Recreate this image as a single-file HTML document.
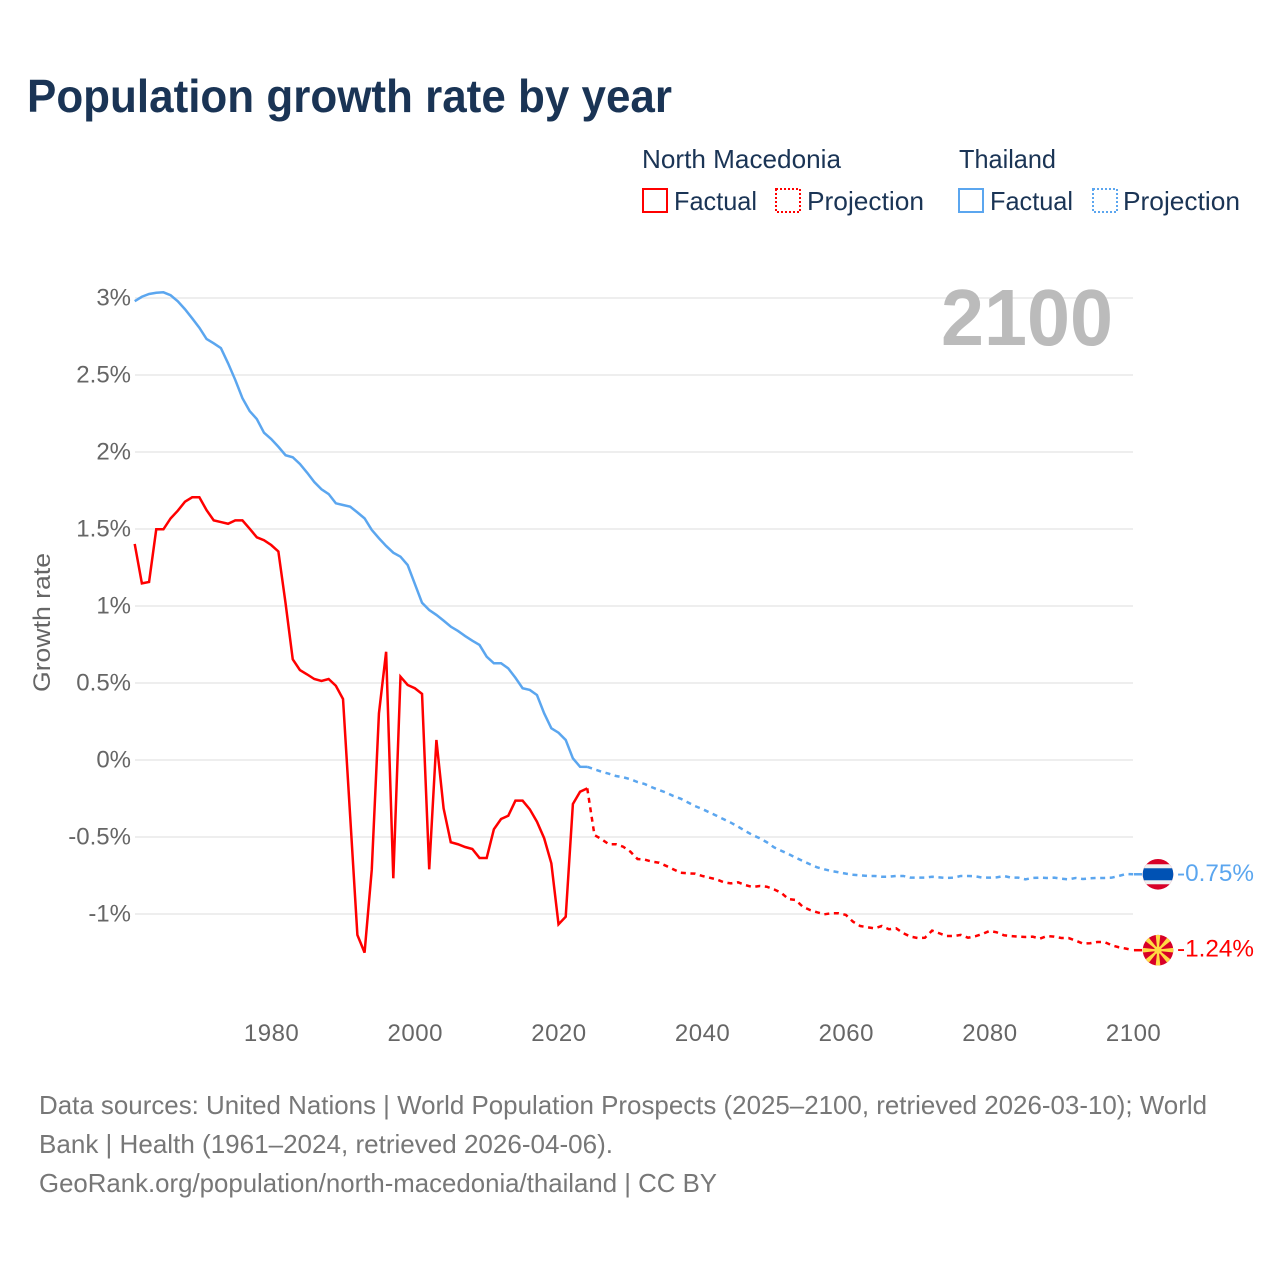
<!DOCTYPE html>
<html lang="en">
<head>
<meta charset="utf-8">
<title>Population growth rate by year</title>
<style>
html,body{margin:0;padding:0;background:#fff;}
svg{display:block;}
text{font-family:"Liberation Sans",sans-serif;}
</style>
</head>
<body>
<svg id="chart" xmlns="http://www.w3.org/2000/svg" width="1280" height="1280" viewBox="0 0 1280 1280">
  <rect x="0" y="0" width="1280" height="1280" fill="#ffffff"/>
  <text x="27" y="112" font-size="46" font-weight="700" fill="#1a3455" textLength="645" lengthAdjust="spacingAndGlyphs">Population growth rate by year</text>

  <g font-size="26" fill="#1a3455">
    <text x="642" y="168" textLength="199" lengthAdjust="spacingAndGlyphs">North Macedonia</text>
    <text x="959" y="168" textLength="97" lengthAdjust="spacingAndGlyphs">Thailand</text>
    <rect x="643" y="189" width="24" height="23" fill="none" stroke="#ff0000" stroke-width="2"/>
    <text x="674" y="210" textLength="83" lengthAdjust="spacingAndGlyphs">Factual</text>
    <rect x="776" y="189" width="24" height="23" fill="none" stroke="#ff0000" stroke-width="2" stroke-dasharray="2 2"/>
    <text x="807" y="210" textLength="117" lengthAdjust="spacingAndGlyphs">Projection</text>
    <rect x="959" y="189" width="24" height="23" fill="none" stroke="#5ba6ef" stroke-width="2"/>
    <text x="990" y="210" textLength="83" lengthAdjust="spacingAndGlyphs">Factual</text>
    <rect x="1093" y="189" width="24" height="23" fill="none" stroke="#5ba6ef" stroke-width="2" stroke-dasharray="2 2"/>
    <text x="1123" y="210" textLength="117" lengthAdjust="spacingAndGlyphs">Projection</text>
  </g>

  <g id="grid"></g>
  <g id="yTicksGroup"></g>
  <g id="xTicksGroup"></g>

  <text transform="translate(50,622.5) rotate(-90)" text-anchor="middle" font-size="24" fill="#666666" textLength="139" lengthAdjust="spacingAndGlyphs">Growth rate</text>

  <text x="941" y="345" font-size="80" font-weight="700" fill="#bbbbbb" textLength="172" lengthAdjust="spacingAndGlyphs">2100</text>

  <g id="series"></g>

  <g id="flagThailand">
    <clipPath id="clipTh"><circle cx="0" cy="0" r="15.3"/></clipPath>
    <g clip-path="url(#clipTh)">
      <rect x="-16" y="-16" width="32" height="32" fill="#d80027"/>
      <rect x="-16" y="-10" width="32" height="20" fill="#f0f0f0"/>
      <rect x="-16" y="-6" width="32" height="12" fill="#0052b4"/>
    </g>
    <text id="labelTh" x="19" y="6.5" font-size="24" fill="#5ba6ef" textLength="77" lengthAdjust="spacingAndGlyphs"></text>
  </g>

  <g id="flagMacedonia">
    <clipPath id="clipMk"><circle cx="0" cy="0" r="15.3"/></clipPath>
    <g clip-path="url(#clipMk)">
      <rect x="-16" y="-16" width="32" height="32" fill="#d80027"/>
      <g fill="#ffda44">
        <polygon points="-2.4,-16 2.4,-16 0.7,0 -0.7,0"/>
        <polygon points="-2.4,-16 2.4,-16 0.7,0 -0.7,0" transform="rotate(45)"/>
        <polygon points="-2.4,-16 2.4,-16 0.7,0 -0.7,0" transform="rotate(90)"/>
        <polygon points="-2.4,-16 2.4,-16 0.7,0 -0.7,0" transform="rotate(135)"/>
        <polygon points="-2.4,-16 2.4,-16 0.7,0 -0.7,0" transform="rotate(180)"/>
        <polygon points="-2.4,-16 2.4,-16 0.7,0 -0.7,0" transform="rotate(225)"/>
        <polygon points="-2.4,-16 2.4,-16 0.7,0 -0.7,0" transform="rotate(270)"/>
        <polygon points="-2.4,-16 2.4,-16 0.7,0 -0.7,0" transform="rotate(315)"/>
        <circle cx="0" cy="0" r="3.8"/>
      </g>
    </g>
    <text id="labelMk" x="19" y="6.5" font-size="24" fill="#ff0000" textLength="77" lengthAdjust="spacingAndGlyphs"></text>
  </g>

  <g font-size="26" fill="#777777">
    <text x="39" y="1114" textLength="1168" lengthAdjust="spacingAndGlyphs">Data sources: United Nations | World Population Prospects (2025–2100, retrieved 2026-03-10); World</text>
    <text x="39" y="1153" textLength="574" lengthAdjust="spacingAndGlyphs">Bank | Health (1961–2024, retrieved 2026-04-06).</text>
    <text x="39" y="1192" textLength="678" lengthAdjust="spacingAndGlyphs">GeoRank.org/population/north-macedonia/thailand | CC BY</text>
  </g>
</svg>
<script>
const factualStartYear = 1961;
const projectionStartYear = 2024;
const yTickValues = [3, 2.5, 2, 1.5, 1, 0.5, 0, -0.5, -1];
const yTickLabels = ['3%', '2.5%', '2%', '1.5%', '1%', '0.5%', '0%', '-0.5%', '-1%'];
const xTickYears = [1980, 2000, 2020, 2040, 2060, 2080, 2100];
const endValueLabels = ['-0.75%', '-1.24%'];

const thailandFactual = [2.979,3.008,3.026,3.034,3.037,3.018,2.979,2.927,2.868,2.807,2.734,2.706,2.675,2.576,2.468,2.349,2.266,2.214,2.125,2.084,2.034,1.979,1.966,1.922,1.866,1.805,1.758,1.727,1.667,1.656,1.645,1.608,1.569,1.494,1.440,1.390,1.346,1.320,1.266,1.143,1.021,0.974,0.942,0.905,0.866,0.838,0.805,0.775,0.747,0.671,0.628,0.628,0.595,0.534,0.466,0.455,0.422,0.303,0.206,0.177,0.130,0.011,-0.044,-0.045];
const thailandProjection = [-0.044,-0.060,-0.076,-0.089,-0.104,-0.112,-0.125,-0.143,-0.156,-0.177,-0.195,-0.212,-0.234,-0.251,-0.275,-0.299,-0.318,-0.340,-0.362,-0.385,-0.407,-0.433,-0.461,-0.487,-0.508,-0.534,-0.567,-0.589,-0.610,-0.634,-0.656,-0.677,-0.697,-0.710,-0.721,-0.729,-0.738,-0.745,-0.749,-0.753,-0.753,-0.758,-0.758,-0.753,-0.753,-0.764,-0.764,-0.764,-0.758,-0.762,-0.766,-0.764,-0.753,-0.753,-0.755,-0.764,-0.764,-0.762,-0.753,-0.764,-0.764,-0.775,-0.766,-0.764,-0.766,-0.764,-0.771,-0.775,-0.766,-0.773,-0.768,-0.766,-0.766,-0.764,-0.753,-0.740,-0.742];
const macedoniaFactual = [1.403,1.147,1.156,1.498,1.498,1.569,1.619,1.677,1.706,1.706,1.623,1.556,1.545,1.534,1.556,1.556,1.502,1.446,1.427,1.396,1.354,1.018,0.654,0.584,0.556,0.526,0.513,0.526,0.482,0.396,-0.368,-1.136,-1.251,-0.714,0.303,0.703,-0.768,0.541,0.487,0.466,0.429,-0.710,0.130,-0.314,-0.534,-0.547,-0.565,-0.578,-0.636,-0.636,-0.450,-0.383,-0.362,-0.264,-0.264,-0.320,-0.401,-0.508,-0.671,-1.067,-1.018,-0.286,-0.206,-0.184];
const macedoniaProjection = [-0.184,-0.487,-0.515,-0.547,-0.547,-0.563,-0.595,-0.643,-0.647,-0.660,-0.667,-0.688,-0.710,-0.732,-0.736,-0.738,-0.753,-0.764,-0.775,-0.794,-0.801,-0.794,-0.812,-0.825,-0.818,-0.823,-0.840,-0.862,-0.903,-0.909,-0.953,-0.974,-0.989,-1.002,-0.995,-0.995,-1.006,-1.050,-1.078,-1.086,-1.093,-1.078,-1.099,-1.093,-1.125,-1.147,-1.156,-1.154,-1.108,-1.125,-1.143,-1.143,-1.136,-1.154,-1.145,-1.130,-1.110,-1.119,-1.138,-1.143,-1.147,-1.149,-1.147,-1.160,-1.143,-1.147,-1.156,-1.156,-1.173,-1.192,-1.190,-1.182,-1.182,-1.203,-1.216,-1.225,-1.235];

const SVGNS = 'http://www.w3.org/2000/svg';
function xScale(year) { return 134.7 + (year - 1961) * (1134 - 135.5) / 139; }
function yScale(value) { return 760 - value * 154; }

function linePath(values, startYear) {
  return values.map(function (v, i) {
    return (i ? 'L' : 'M') + xScale(startYear + i).toFixed(2) + ' ' + yScale(v).toFixed(2);
  }).join(' ');
}

const gridGroup = document.getElementById('grid');
const yGroup = document.getElementById('yTicksGroup');
yTickValues.forEach(function (v, i) {
  const line = document.createElementNS(SVGNS, 'line');
  
  
  line.setAttribute('x1', 135);
  line.setAttribute('x2', 1133);
  line.setAttribute('y1', yScale(v));
  line.setAttribute('y2', yScale(v));
  line.setAttribute('stroke', '#eeeeee');
  line.setAttribute('stroke-width', '2');
  gridGroup.appendChild(line);

  const label = document.createElementNS(SVGNS, 'text');
  
  
  label.setAttribute('x', 131);
  label.setAttribute('y', yScale(v) + 7.5);
  label.setAttribute('text-anchor', 'end');
  label.setAttribute('font-size', '24');
  label.setAttribute('fill', '#666666');
  label.textContent = yTickLabels[i];
  yGroup.appendChild(label);
});

const xGroup = document.getElementById('xTicksGroup');
xTickYears.forEach(function (yr) {
  const label = document.createElementNS(SVGNS, 'text');
  
  
  label.setAttribute('x', xScale(yr) + 0.4);
  label.setAttribute('y', 1041);
  label.setAttribute('text-anchor', 'middle');
  label.setAttribute('font-size', '24');
  label.setAttribute('letter-spacing', '0.5');
  label.setAttribute('fill', '#666666');
  label.textContent = String(yr);
  xGroup.appendChild(label);
});

const seriesGroup = document.getElementById('series');
function addLine(values, startYear, color, dashed, name) {
  const p = document.createElementNS(SVGNS, 'path');
  
  
  p.setAttribute('d', linePath(values, startYear));
  p.setAttribute('fill', 'none');
  p.setAttribute('stroke', color);
  p.setAttribute('stroke-width', '2.5');
  p.setAttribute('stroke-linejoin', 'miter');
  if (dashed) p.setAttribute('stroke-dasharray', '5 4.6');
  seriesGroup.appendChild(p);
}
addLine(thailandProjection, projectionStartYear, '#5ba6ef', true, 'thailand-projection-line');
addLine(macedoniaProjection, projectionStartYear, '#ff0000', true, 'north-macedonia-projection-line');
addLine(thailandFactual, factualStartYear, '#5ba6ef', false, 'thailand-factual-line');
addLine(macedoniaFactual, factualStartYear, '#ff0000', false, 'north-macedonia-factual-line');

function addConnector(value, color, name) {
  const c = document.createElementNS(SVGNS, 'line');
  
  
  c.setAttribute('x1', 1134);
  c.setAttribute('x2', 1142);
  c.setAttribute('y1', yScale(value));
  c.setAttribute('y2', yScale(value));
  c.setAttribute('stroke', color);
  c.setAttribute('stroke-width', '2.5');
  seriesGroup.appendChild(c);
}
const thailandLast = thailandProjection[thailandProjection.length - 1];
const macedoniaLast = macedoniaProjection[macedoniaProjection.length - 1];
addConnector(thailandLast, '#5ba6ef', 'thailand-end-connector');
addConnector(macedoniaLast, '#ff0000', 'north-macedonia-end-connector');

document.getElementById('flagThailand').setAttribute('transform', 'translate(1158,' + yScale(thailandLast) + ')');
document.getElementById('flagMacedonia').setAttribute('transform', 'translate(1158,' + yScale(macedoniaLast) + ')');
document.getElementById('labelTh').textContent = endValueLabels[0];
document.getElementById('labelMk').textContent = endValueLabels[1];
</script>
</body>
</html>
